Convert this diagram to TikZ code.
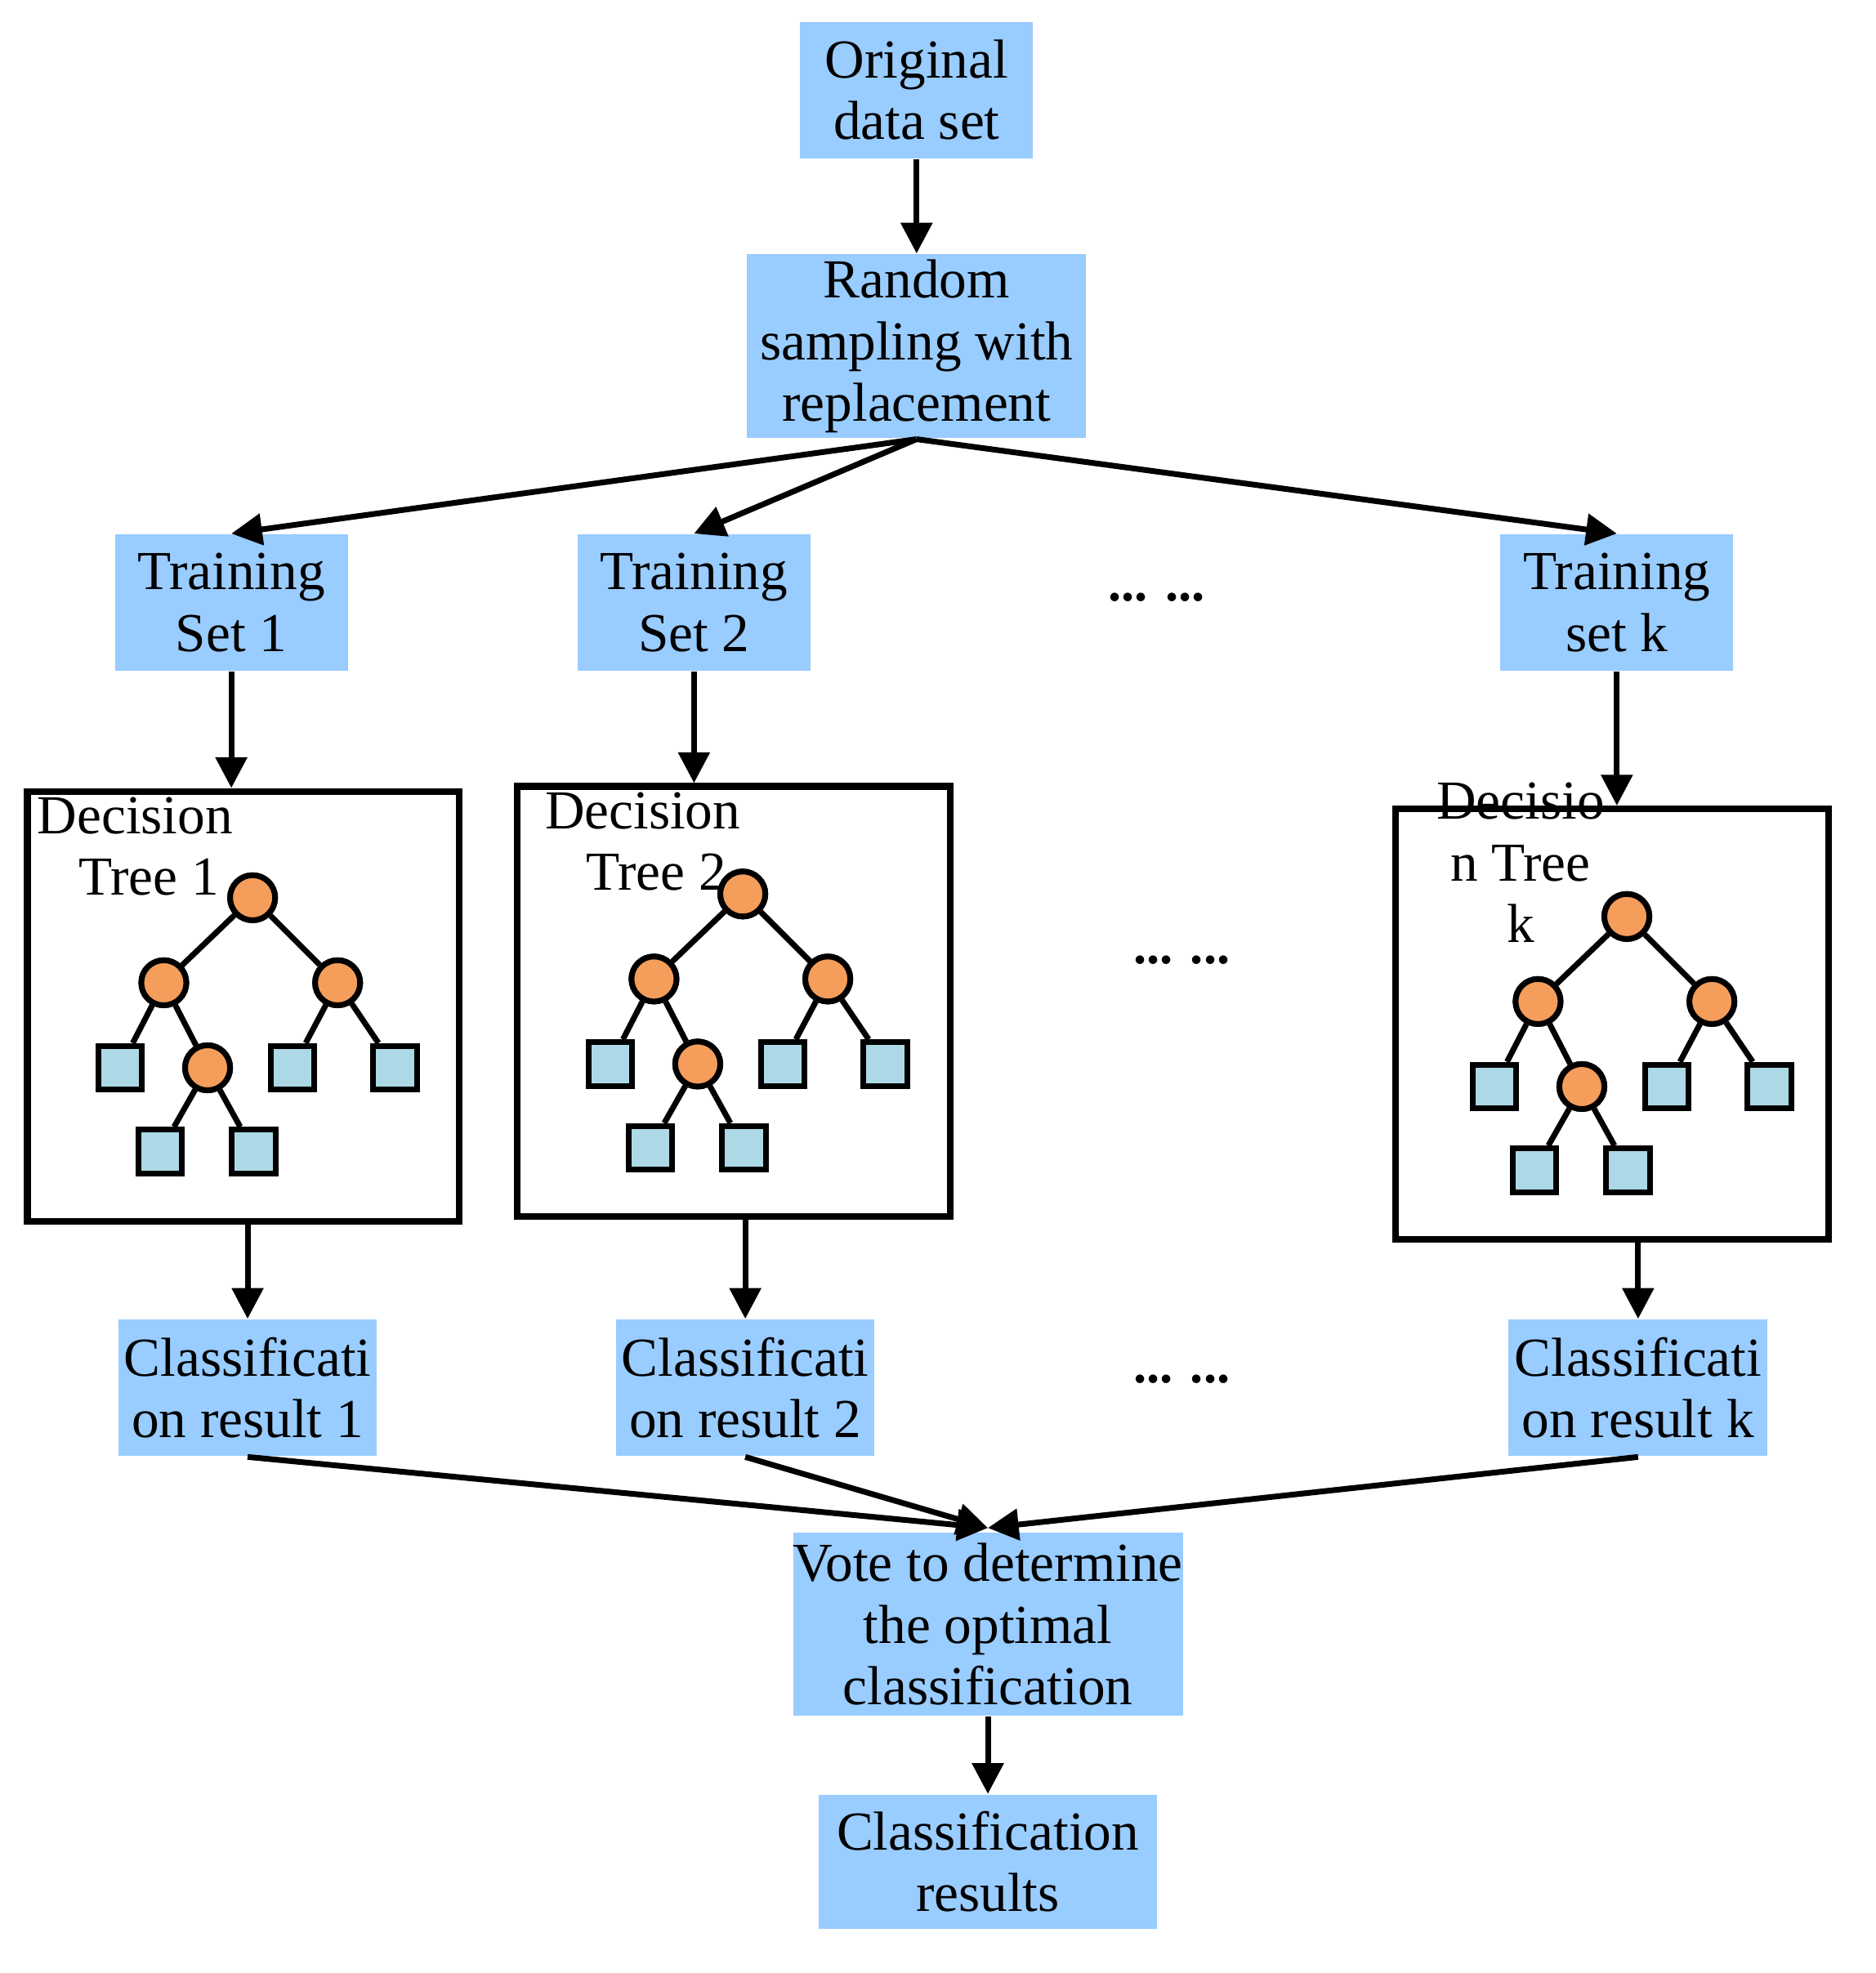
\documentclass[tikz,border=0pt]{standalone}
\usepackage{fontspec}
\setmainfont{Liberation Serif}
\usetikzlibrary{arrows.meta}
\definecolor{boxblue}{HTML}{99CCFF}
\definecolor{orng}{HTML}{F59D5A}
\definecolor{leaf}{HTML}{ADD8E6}
\tikzset{
 box/.style={fill=boxblue,draw=none,align=center,font=\fontsize{12.5}{14}\selectfont,inner sep=0pt},
 arr/.style={line width=1.3pt,-{Triangle[length=7pt,width=7pt]}},
 tbox/.style={draw,line width=1.5pt,fill=white},
 inode/.style={circle,draw,line width=1.3pt,fill=orng,minimum size=0.36cm,inner sep=0pt},
 lnode/.style={rectangle,draw,line width=1.3pt,fill=leaf,minimum size=0.35cm,inner sep=0pt},
 edge/.style={line width=1.3pt},
 dots/.style={font=\bfseries\fontsize{12}{14}\selectfont},
 pics/tree/.style={code={
  \node[inode] (-r) at (0,0) {};
  \node[inode] (-a) at (-71,68) {};
  \node[inode] (-b) at (68,68) {};
  \node[lnode] (-l1) at (-106,136) {};
  \node[inode] (-c) at (-36,136) {};
  \node[lnode] (-l2) at (32,136) {};
  \node[lnode] (-l3) at (114,136) {};
  \node[lnode] (-l4) at (-74,203) {};
  \node[lnode] (-l5) at (1,203) {};
  \draw[edge] (-r)--(-a) (-r)--(-b) (-a)--(-l1) (-a)--(-c) (-b)--(-l2) (-b)--(-l3) (-c)--(-l4) (-c)--(-l5);
  \node[inode] at (-r) {}; \node[inode] at (-a) {}; \node[inode] at (-b) {}; \node[inode] at (-c) {};
 }}
}
\begin{document}
\begin{tikzpicture}[x=0.01cm,y=-0.01cm]
\useasboundingbox (0,0) rectangle (1500,1578);
\node[box,minimum width=1.86cm,minimum height=1.09cm] (orig) at (733,72) {Original\\data set};
\node[box,minimum width=2.71cm,minimum height=1.47cm] (rand) at (733,277) {Random\\sampling with\\replacement};
\node[box,minimum width=1.86cm,minimum height=1.09cm] (t1) at (185,482) {Training\\Set 1};
\node[box,minimum width=1.86cm,minimum height=1.09cm] (t2) at (555,482) {Training\\Set 2};
\node[box,minimum width=1.86cm,minimum height=1.09cm] (tk) at (1293,482) {Training\\set k};
\node[dots] (d1) at (925,478) {... ...};
\node[tbox,minimum width=3.45cm,minimum height=3.44cm] (b1) at (194.5,805) {};
\node[tbox,minimum width=3.46cm,minimum height=3.44cm] (b2) at (587,801) {};
\node[tbox,minimum width=3.46cm,minimum height=3.44cm] (bk) at (1289,819) {};
\node[align=center,font=\fontsize{12.5}{14}\selectfont] (n1) at (108,677) {Decision\\\ \ Tree 1};
\node[align=center,font=\fontsize{12.5}{14}\selectfont] (n2) at (514,673) {Decision\\\ \ Tree 2};
\node[align=center,font=\fontsize{12.5}{14}\selectfont] (nk) at (1216,690) {Decisio\\n Tree\\k};
\pic (tr1) at (202,718) {tree};
\pic (tr2) at (594,715) {tree};
\pic (trk) at (1301,733) {tree};
\node[dots] (d2) at (945,768) {... ...};
\node[box,minimum width=2.06cm,minimum height=1.09cm] (c1) at (198,1110) {Classificati\\on result 1};
\node[box,minimum width=2.06cm,minimum height=1.09cm] (c2) at (596,1110) {Classificati\\on result 2};
\node[box,minimum width=2.07cm,minimum height=1.09cm] (ck) at (1310,1110) {Classificati\\on result k};
\node[dots] (d3) at (945,1103) {... ...};
\node[box,minimum width=3.10cm,minimum height=1.46cm] (vote) at (790,1299) {Vote to determine\\the optimal\\classification};
\node[box,minimum width=2.70cm,minimum height=1.07cm] (res) at (790,1489) {Classification\\results};
\coordinate (vt) at (790,1222);
\draw[arr] (orig.south)--(rand.north);
\draw[arr] (rand.south)--(t1.north);
\draw[arr] (rand.south)--(t2.north);
\draw[arr] (rand.south)--(tk.north);
\draw[arr] (t1.south)--(t1.south|-b1.north);
\draw[arr] (t2.south)--(t2.south|-b2.north);
\draw[arr] (tk.south)--(tk.south|-bk.north);
\draw[arr] (c1.north|-b1.south)--(c1.north);
\draw[arr] (c2.north|-b2.south)--(c2.north);
\draw[arr] (ck.north|-bk.south)--(ck.north);
\draw[arr] (c1.south)--(vt);
\draw[arr] (c2.south)--(vt);
\draw[arr] (ck.south)--(vt);
\draw[arr] (vote.south)--(res.north);
\end{tikzpicture}
\end{document}
